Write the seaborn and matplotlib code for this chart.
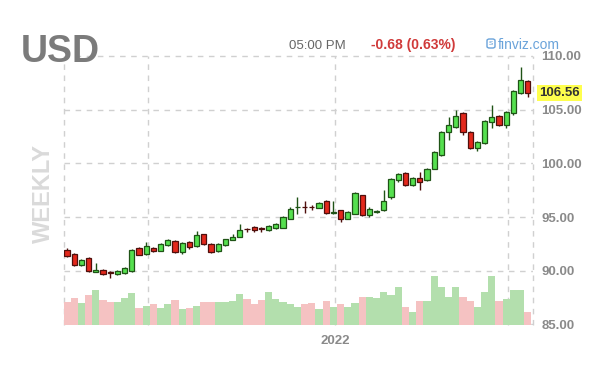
import numpy as np
import pandas as pd
import matplotlib
matplotlib.use("Agg")
import matplotlib.pyplot as plt
import seaborn as sns
from matplotlib.patches import FancyBboxPatch
from matplotlib.transforms import blended_transform_factory

# ---------------- data (weekly USD index candles) ----------------
opens = [91.97, 91.59, 90.50, 91.22, 89.92, 90.10, 89.86, 89.66, 89.79, 89.97,
         92.15, 91.53, 92.16, 91.84, 92.37, 92.77, 91.75, 92.68, 92.28, 93.40,
         92.53, 91.81, 92.37, 92.90, 93.15, 93.90, 94.08, 93.95, 93.77, 94.02,
         94.02, 94.86, 95.90, 95.96, 95.94, 95.89, 96.50, 95.40, 95.63, 94.86,
         95.33, 97.03, 95.17, 95.50, 95.63, 96.88, 98.43, 99.10, 97.97, 98.65,
         98.43, 99.52, 100.76, 102.94, 103.40, 104.65, 102.94, 101.39, 101.92, 103.87,
         104.40, 103.56, 104.65, 106.52, 107.67]
highs = [92.10, 91.70, 91.10, 91.30, 90.72, 90.20, 90.00, 90.05, 90.35, 92.05,
         92.20, 92.68, 92.25, 92.60, 93.00, 92.85, 92.65, 92.75, 93.70, 93.45,
         92.60, 92.55, 93.00, 93.40, 94.40, 94.00, 94.20, 94.10, 94.25, 94.45,
         95.10, 95.90, 96.88, 96.50, 96.10, 96.40, 96.55, 96.50, 95.70, 95.55,
         97.30, 97.10, 95.90, 95.70, 97.50, 98.60, 99.10, 99.20, 98.70, 99.20,
         99.60, 101.15, 103.00, 104.34, 104.96, 104.75, 103.00, 102.10, 104.00, 105.43,
         104.50, 104.90, 106.80, 108.95, 107.75]
lows = [91.25, 90.45, 90.45, 89.90, 89.85, 89.60, 89.36, 89.60, 89.70, 89.90,
        91.45, 91.45, 91.75, 91.80, 92.30, 91.70, 91.60, 92.00, 92.20, 92.40,
        91.70, 91.75, 92.30, 92.85, 93.10, 93.60, 93.60, 93.60, 93.70, 93.90,
        93.95, 94.80, 95.33, 95.42, 95.70, 95.80, 95.30, 95.30, 94.55, 94.80,
        95.30, 95.10, 95.00, 95.40, 95.55, 96.70, 98.30, 97.90, 97.90, 97.50,
        98.35, 99.45, 100.70, 102.16, 103.30, 102.63, 101.30, 101.15, 101.85, 103.30,
        103.45, 103.25, 104.55, 106.45, 106.15]
closes = [91.34, 90.50, 91.03, 89.97, 90.10, 89.73, 89.80, 89.97, 90.25, 91.97,
          91.50, 92.28, 91.81, 92.53, 92.84, 91.75, 92.59, 92.21, 93.30, 92.46,
          91.75, 92.46, 92.93, 93.15, 93.83, 93.85, 93.83, 93.88, 94.17, 94.39,
          95.00, 95.79, 95.95, 95.90, 95.90, 96.32, 95.38, 95.48, 94.86, 95.48,
          97.25, 95.17, 95.79, 95.58, 96.50, 98.50, 98.99, 97.97, 98.60, 98.28,
          99.52, 101.07, 102.94, 103.56, 104.40, 102.94, 101.39, 102.00, 103.94, 104.34,
          103.56, 104.80, 106.73, 107.76, 106.56]
volumes = [22.7, 26.7, 22.3, 30.0, 35.0, 24.7, 22.7, 22.7, 26.7, 31.7,
           17.3, 19.3, 20.7, 17.3, 20.7, 24.7, 15.7, 17.3, 19.0, 22.7,
           22.7, 22.7, 23.5, 24.0, 31.3, 26.0, 20.7, 24.7, 33.3, 26.0,
           22.7, 20.7, 18.3, 20.7, 22.3, 15.7, 24.0, 17.7, 20.7, 18.3,
           22.3, 27.7, 27.7, 26.7, 33.3, 30.0, 38.3, 18.3, 13.3, 24.3,
           24.3, 49.0, 37.7, 27.7, 38.3, 27.7, 24.3, 18.3, 33.3, 49.0,
           24.3, 25.7, 35.0, 35.0, 13.3]
price_ticks = [85, 90, 95, 100, 105, 110]
year_label = "2022"
last_price = 106.56
symbol = "USD"
timeframe = "WEEKLY"
time_text = "05:00 PM"
change_text = "-0.68 (0.63%)"
brand_text = "finviz.com"

# ---------------- styling ----------------
UP_FILL, UP_EDGE = "#55e04f", "#1f5316"
DN_FILL, DN_EDGE = "#e3281c", "#4f0f0c"
VOL_UP, VOL_DN = "#b3dfad", "#f5c2c2"
GRID = "#d0d0d0"

df = pd.DataFrame({"week": np.arange(len(opens)), "open": opens, "high": highs,
                   "low": lows, "close": closes, "volume": volumes})
df["direction"] = np.where(df["close"] >= df["open"], "up", "down")

sns.set_theme(style="white")
plt.rcParams["font.family"] = ["Liberation Sans", "DejaVu Sans"]

W, H = 606, 378
fig = plt.figure(figsize=(W / 100, H / 100), dpi=100)
fig.patch.set_facecolor("white")

x_lo, x_hi = -0.42, 64.75
y_lo, y_hi = 84.95, 110.4
ax = fig.add_axes([64 / W, (H - 325) / H, (533.2 - 64) / W, (325 - 51.7) / H])
ax_vol = ax.twinx()

# price axis on the right
ax.yaxis.tick_right()
ax.set_ylim(y_lo, y_hi)
ax.set_xlim(x_lo, x_hi)
ax.set_yticks(price_ticks)
ax.set_yticklabels([f"{t:.2f}" for t in price_ticks])
ax.tick_params(axis="y", length=0, pad=6, labelsize=9.5, labelcolor="#8a8a8a")
for lab in ax.get_yticklabels():
    lab.set_fontweight("bold")
ax.grid(axis="y", color=GRID, linestyle=(0, (4, 4)), linewidth=1)
ax.set_axisbelow(True)

# vertical grid lines (half-year boundaries + frame)
for xv in [x_lo + 0.05, 11.25, 37.22, 61.25, x_hi - 0.05]:
    ax.vlines(xv, y_lo, 110, colors=GRID, linestyles=(0, (4, 4)), linewidth=1,
              zorder=0.5, clip_on=False)

ax.set_xticks([37.22])
ax.set_xticklabels([year_label])
ax.tick_params(axis="x", length=0, pad=7, labelsize=9.5, labelcolor="#8a8a8a")
for lab in ax.get_xticklabels():
    lab.set_fontweight("bold")

# candles
for direction, fill, edge in [("up", UP_FILL, UP_EDGE), ("down", DN_FILL, DN_EDGE)]:
    d = df[df["direction"] == direction]
    ax.vlines(d["week"], d["low"], d["high"], colors=edge, linewidth=1, zorder=2)
    lo = np.minimum(d["open"], d["close"])
    hgt = np.maximum(np.abs(d["close"] - d["open"]), 0.02)
    ax.bar(d["week"], hgt, bottom=lo, width=0.72, color=fill, edgecolor=edge,
           linewidth=0.9, zorder=3)

# volume bars
sns.barplot(data=df, x="week", y="volume", hue="direction",
            palette={"up": VOL_UP, "down": VOL_DN}, native_scale=True,
            width=1.0, dodge=False, saturation=1, linewidth=0, errorbar=None,
            legend=False, ax=ax_vol)
ax_vol.set_ylim(0, 325 - 51.7)
ax_vol.set_yticks([])
ax_vol.set_xlabel("")
ax_vol.set_ylabel("")
ax.set_xlim(x_lo, x_hi)
ax.set_xlabel("")
ax.set_ylabel("")
for a in (ax, ax_vol):
    for s in a.spines.values():
        s.set_visible(False)

# last price tag
trans = blended_transform_factory(ax.transAxes, ax.transData)
ax.annotate(f"{last_price:.2f}", xy=(1, last_price), xycoords=trans,
            xytext=(6, 0), textcoords="offset pixels", ha="left", va="center",
            fontsize=9.5, fontweight="bold", color="#333333",
            bbox=dict(boxstyle="square,pad=0.15", fc="#ffff4d", ec="none"),
            annotation_clip=False, zorder=10)

# header texts
def fx(px):
    return px / W


def fy(py):
    return 1 - py / H


fig.text(fx(21), fy(62), symbol, fontsize=27, fontweight="bold", color="#7b7b7b",
         ha="left", va="baseline")
fig.text(fx(43), fy(193), timeframe, rotation=90, fontsize=17, fontweight="bold",
         color="#dadada", ha="center", va="center")
fig.text(fx(346), fy(49), time_text, fontsize=9.5, color="#666666",
         ha="right", va="baseline")
fig.text(fx(371), fy(49), change_text, fontsize=10, fontweight="bold",
         color="#d03a3a", ha="left", va="baseline")
fig.text(fx(498), fy(49), brand_text, fontsize=10, color="#6aa3da",
         ha="left", va="baseline")
icon = FancyBboxPatch((fx(487), fy(48)), 8 / W, 9 / H,
                      boxstyle="round,pad=0,rounding_size=0.004",
                      transform=fig.transFigure, fill=False, ec="#6aa3da", lw=1)
fig.add_artist(icon)
fig.text(fx(491), fy(43.5), "s", fontsize=6, color="#6aa3da", ha="center", va="center")

fig.savefig("out.png", dpi=100, facecolor="white")
